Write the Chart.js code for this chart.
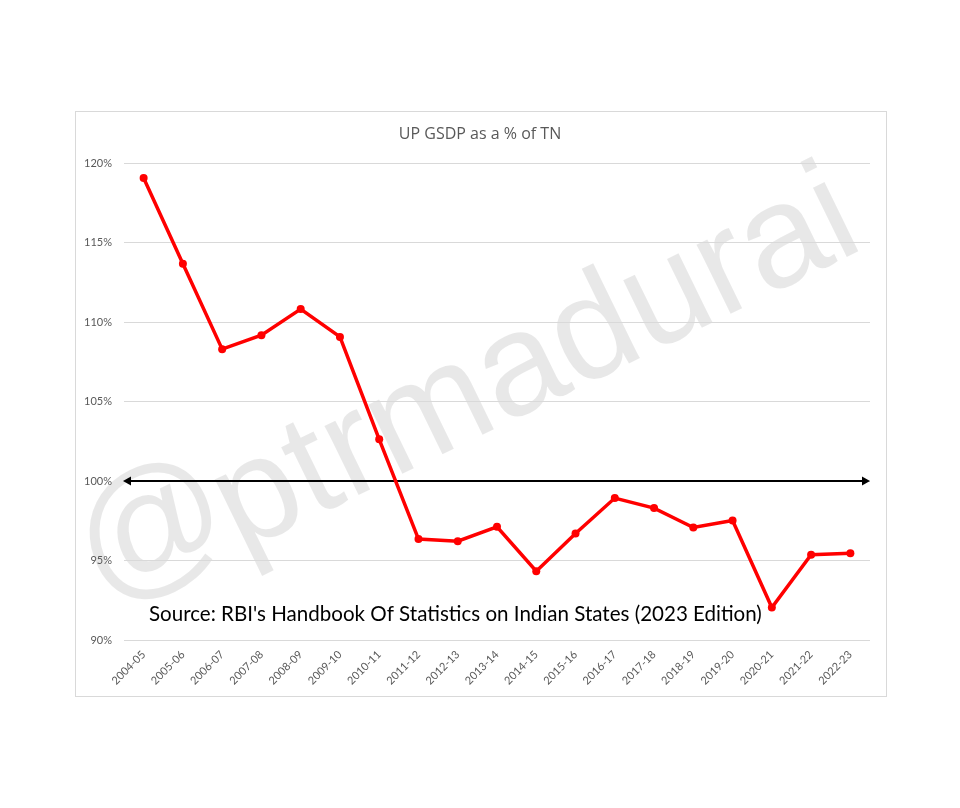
<!DOCTYPE html>
<html>
<head>
<meta charset="utf-8">
<script src="https://cdn.jsdelivr.net/npm/chart.js@4/dist/chart.umd.min.js"></script>
<style>
  html, body { margin: 0; padding: 0; background: #ffffff; }
  canvas { display: block; }
</style>
</head>
<body>
<canvas id="c" width="960" height="808" style="width:960px;height:808px"></canvas>
<script>
// ---- data ----
const categories = ["2004-05","2005-06","2006-07","2007-08","2008-09","2009-10","2010-11","2011-12","2012-13","2013-14","2014-15","2015-16","2016-17","2017-18","2018-19","2019-20","2020-21","2021-22","2022-23"];
const upAsPctOfTN = [119.07,113.67,108.30,109.18,110.82,109.07,102.63,96.35,96.22,97.12,94.33,96.70,98.93,98.30,97.08,97.52,92.04,95.36,95.46];
const yTicks = [90, 95, 100, 105, 110, 115, 120];
const parityLevel = 100;
const titleText = "UP GSDP as a % of TN";
const sourceText = "Source: RBI's Handbook Of Statistics on Indian States (2023 Edition)";
const watermarkAt = "@";
const watermarkName = "ptrmadurai";

const decor = {
  id: 'decor',
  beforeDraw(chart) {
    const ctx = chart.ctx;
    ctx.save();
    ctx.fillStyle = '#ffffff';
    ctx.fillRect(0, 0, chart.width, chart.height);
    ctx.strokeStyle = '#d9d9d9';
    ctx.lineWidth = 1;
    ctx.strokeRect(75.5, 111.5, 811, 585);
    ctx.restore();
    // watermark (behind grid)
    const ang = -26 * Math.PI / 180;
    ctx.save();
    ctx.fillStyle = 'rgba(0,0,0,0.09)';
    ctx.textAlign = 'left';
    ctx.textBaseline = 'alphabetic';
    ctx.translate(103, 604);
    ctx.rotate(ang);
    ctx.font = '150px "Liberation Sans", Arial, sans-serif';
    ctx.fillText(watermarkAt, 0, 0);
    ctx.restore();
    ctx.save();
    ctx.fillStyle = 'rgba(0,0,0,0.09)';
    ctx.textAlign = 'left';
    ctx.textBaseline = 'alphabetic';
    ctx.translate(240, 553);
    ctx.rotate(ang);
    ctx.font = '146px "Liberation Sans", Arial, sans-serif';
    ctx.fillText(watermarkName, 0, 0);
    ctx.restore();
  },
  beforeDatasetsDraw(chart) {
    const ctx = chart.ctx;
    const y = chart.scales.y;
    const area = chart.chartArea;
    // parity arrow at 100%
    const py = Math.round(y.getPixelForValue(parityLevel));
    const x0 = area.left - 1, x1 = area.right;
    ctx.save();
    ctx.strokeStyle = '#000000';
    ctx.fillStyle = '#000000';
    ctx.lineWidth = 2.2;
    ctx.beginPath();
    ctx.moveTo(x0 + 6, py);
    ctx.lineTo(x1 - 6, py);
    ctx.stroke();
    ctx.beginPath();
    ctx.moveTo(x0, py); ctx.lineTo(x0 + 8, py - 4.5); ctx.lineTo(x0 + 8, py + 4.5); ctx.closePath(); ctx.fill();
    ctx.beginPath();
    ctx.moveTo(x1, py); ctx.lineTo(x1 - 8, py - 4.5); ctx.lineTo(x1 - 8, py + 4.5); ctx.closePath(); ctx.fill();
    ctx.restore();
  },
  afterDatasetsDraw(chart) {
    const ctx = chart.ctx;
    ctx.save();
    let size = 20;
    ctx.font = size + 'px Lato, "Open Sans", sans-serif';
    const w = ctx.measureText(sourceText).width;
    size = size * 613 / w;
    ctx.font = size + 'px Lato, "Open Sans", sans-serif';
    ctx.fillStyle = '#000000';
    ctx.textAlign = 'left';
    ctx.textBaseline = 'alphabetic';
    ctx.fillText(sourceText, 149, 621);
    ctx.restore();
  }
};

new Chart(document.getElementById('c'), {
  type: 'line',
  data: {
    labels: categories,
    datasets: [{
      data: upAsPctOfTN,
      borderColor: '#ff0000',
      backgroundColor: '#ff0000',
      borderWidth: 3.5,
      pointRadius: 4,
      pointHoverRadius: 4,
      pointBorderWidth: 0,
      tension: 0,
      fill: false
    }]
  },
  options: {
    responsive: false,
    animation: false,
    devicePixelRatio: 1,
    layout: { padding: { left: 76, right: 76, top: 0, bottom: 0 } },
    plugins: {
      legend: { display: false },
      tooltip: { enabled: false },
      title: {
        display: true,
        text: titleText,
        color: '#595959',
        font: { family: '"Open Sans", sans-serif', size: 16, weight: 'normal' },
        padding: { top: 125, bottom: 19 }
      }
    },
    scales: {
      x: {
        offset: true,
        grid: { display: false, drawTicks: false },
        border: { display: false },
        ticks: {
          color: '#595959',
          font: { family: 'Lato, sans-serif', size: 11 },
          minRotation: 45,
          maxRotation: 45,
          padding: 8,
          autoSkip: false
        },
        afterFit(scale) { scale.height = 168; }
      },
      y: {
        min: 90,
        max: 120,
        afterBuildTicks(scale) { scale.ticks = yTicks.map(v => ({ value: v })); },
        grid: { color: '#d9d9d9', lineWidth: 1, drawTicks: false },
        border: { display: false },
        ticks: {
          color: '#595959',
          font: { family: 'Lato, sans-serif', size: 11 },
          padding: 12,
          callback: v => v + '%'
        },
        afterFit(scale) { scale.width = 48; }
      },
      yRight: {
        position: 'right',
        min: 90,
        max: 120,
        grid: { display: false, drawTicks: false },
        border: { display: false },
        ticks: { display: false },
        afterFit(scale) { scale.width = 14; }
      }
    }
  },
  plugins: [decor]
});
</script>
</body>
</html>
